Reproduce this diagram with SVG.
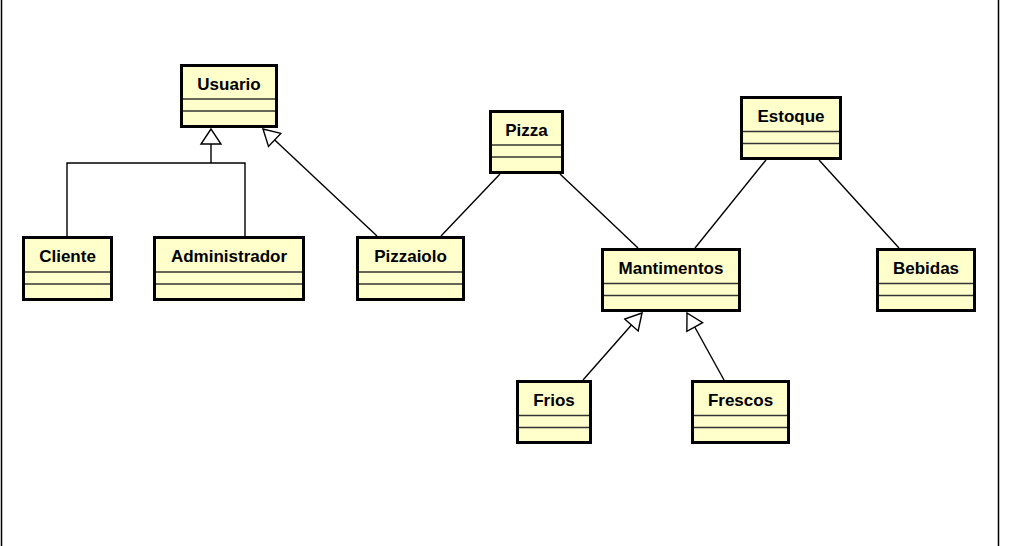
<svg xmlns="http://www.w3.org/2000/svg" width="1030" height="546" viewBox="0 0 1030 546">
<defs>
<style>
.box{fill:#ffffcc;stroke:#000;stroke-width:3}
.sep{stroke:#333;stroke-width:1.5}
.lbl{font-family:"Liberation Sans",Arial,sans-serif;font-weight:bold;font-size:17px;fill:#000;text-anchor:middle}
.conn{fill:none;stroke:#000;stroke-width:1.4}
.tri{fill:#fff;stroke:#000;stroke-width:1.4}
.frame{stroke:#000;stroke-width:1.5}
</style>
<marker id="gen" viewBox="0 0 20 20" refX="19" refY="10" markerWidth="20" markerHeight="20" markerUnits="userSpaceOnUse" orient="auto">
<path d="M19,10 L3,1 L3,19 Z" fill="#fff" stroke="#000" stroke-width="1.4"/>
</marker>
</defs>
<rect width="1030" height="546" fill="#fff"/>
<g id="frame">
<line class="frame" x1="1.5" y1="0" x2="1.5" y2="546"/>
<line class="frame" x1="998.5" y1="0" x2="998.5" y2="546"/>
</g>
<g id="connectors">
<polyline class="conn" points="67,236 67,163 245,163 245,236"/>
<line class="conn" x1="211" y1="163" x2="211" y2="144"/>
<path class="tri" d="M211,129 L201,144 L221,144 Z"/>
<line class="conn" x1="377" y1="236" x2="263" y2="129" marker-end="url(#gen)"/>
<line class="conn" x1="441" y1="236" x2="500" y2="174"/>
<line class="conn" x1="560" y1="174" x2="638" y2="248"/>
<line class="conn" x1="766" y1="160" x2="695" y2="248"/>
<line class="conn" x1="819" y1="160" x2="899" y2="248"/>
<line class="conn" x1="583" y1="380" x2="642" y2="313" marker-end="url(#gen)"/>
<line class="conn" x1="724" y1="380" x2="687" y2="313" marker-end="url(#gen)"/>
</g>
<g id="Usuario">
<rect class="box" x="181.5" y="65.5" width="95" height="61"/>
<line class="sep" x1="183" y1="99" x2="275" y2="99"/>
<line class="sep" x1="183" y1="111" x2="275" y2="111"/>
<text class="lbl" x="229" y="90">Usuario</text>
</g>
<g id="Cliente">
<rect class="box" x="23.5" y="237.5" width="88" height="62"/>
<line class="sep" x1="25" y1="272" x2="110" y2="272"/>
<line class="sep" x1="25" y1="284" x2="110" y2="284"/>
<text class="lbl" x="67.5" y="262">Cliente</text>
</g>
<g id="Administrador">
<rect class="box" x="154.5" y="237.5" width="149" height="62"/>
<line class="sep" x1="156" y1="272" x2="302" y2="272"/>
<line class="sep" x1="156" y1="284" x2="302" y2="284"/>
<text class="lbl" x="229" y="262">Administrador</text>
</g>
<g id="Pizzaiolo">
<rect class="box" x="357.5" y="237.5" width="106" height="62"/>
<line class="sep" x1="359" y1="272" x2="462" y2="272"/>
<line class="sep" x1="359" y1="284" x2="462" y2="284"/>
<text class="lbl" x="410.5" y="262">Pizzaiolo</text>
</g>
<g id="Pizza">
<rect class="box" x="490.5" y="111.5" width="72" height="61"/>
<line class="sep" x1="492" y1="145" x2="561" y2="145"/>
<line class="sep" x1="492" y1="157" x2="561" y2="157"/>
<text class="lbl" x="526.5" y="136">Pizza</text>
</g>
<g id="Estoque">
<rect class="box" x="741.5" y="97.5" width="99" height="61"/>
<line class="sep" x1="743" y1="131.5" x2="839" y2="131.5"/>
<line class="sep" x1="743" y1="143.5" x2="839" y2="143.5"/>
<text class="lbl" x="791" y="122">Estoque</text>
</g>
<g id="Mantimentos">
<rect class="box" x="602.5" y="249.5" width="137" height="61"/>
<line class="sep" x1="604" y1="283.5" x2="738" y2="283.5"/>
<line class="sep" x1="604" y1="295.5" x2="738" y2="295.5"/>
<text class="lbl" x="671" y="274">Mantimentos</text>
</g>
<g id="Bebidas">
<rect class="box" x="877.5" y="249.5" width="97" height="61"/>
<line class="sep" x1="879" y1="283.5" x2="973" y2="283.5"/>
<line class="sep" x1="879" y1="295.5" x2="973" y2="295.5"/>
<text class="lbl" x="926" y="274">Bebidas</text>
</g>
<g id="Frios">
<rect class="box" x="517.5" y="381.5" width="73" height="61"/>
<line class="sep" x1="519" y1="415.5" x2="589" y2="415.5"/>
<line class="sep" x1="519" y1="427.5" x2="589" y2="427.5"/>
<text class="lbl" x="554" y="406">Frios</text>
</g>
<g id="Frescos">
<rect class="box" x="692.5" y="381.5" width="96" height="61"/>
<line class="sep" x1="694" y1="415.5" x2="787" y2="415.5"/>
<line class="sep" x1="694" y1="427.5" x2="787" y2="427.5"/>
<text class="lbl" x="740.5" y="406">Frescos</text>
</g>
</svg>
